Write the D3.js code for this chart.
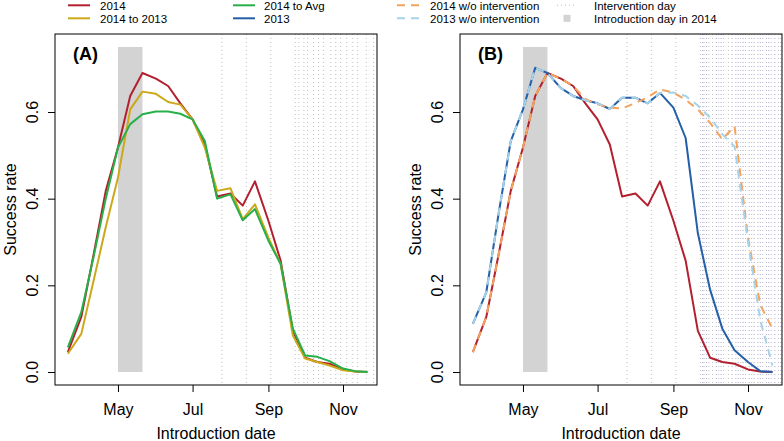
<!DOCTYPE html>
<html><head><meta charset="utf-8">
<script src="https://cdn.jsdelivr.net/npm/d3@7"></script>
<style>
body{margin:0;background:#fff}
svg{display:block}
text{font-family:"Liberation Sans",Arial,Helvetica,sans-serif;fill:#000}
</style>
</head><body>
<svg id="chart" width="784" height="441"></svg>
<script>
// ---------------- data ----------------
const dates = ["2014-03-21","2014-04-01","2014-04-11","2014-04-21","2014-05-01","2014-05-11","2014-05-21",
  "2014-06-01","2014-06-11","2014-06-21","2014-07-01","2014-07-11","2014-07-21","2014-08-01","2014-08-11",
  "2014-08-21","2014-09-01","2014-09-11","2014-09-21","2014-10-01","2014-10-11","2014-10-21","2014-11-01",
  "2014-11-11","2014-11-21"];
const rate2014      = [0.046,0.127,0.270,0.418,0.518,0.637,0.690,0.677,0.660,0.620,0.583,0.525,0.405,0.412,0.384,0.440,0.349,0.257,0.095,0.033,0.023,0.019,0.006,0.001,0.000];
const rate2014to2013= [0.042,0.088,0.210,0.334,0.449,0.606,0.647,0.642,0.623,0.617,0.583,0.518,0.418,0.424,0.353,0.387,0.310,0.249,0.084,0.031,0.023,0.015,0.004,0.001,0.000];
const rate2014toAvg = [0.057,0.138,0.265,0.400,0.518,0.572,0.595,0.601,0.601,0.596,0.583,0.533,0.400,0.410,0.350,0.376,0.303,0.249,0.100,0.038,0.035,0.025,0.008,0.002,0.000];
const rate2013      = [0.111,0.184,0.364,0.533,0.606,0.702,0.690,0.655,0.637,0.627,0.620,0.607,0.633,0.633,0.620,0.644,0.610,0.540,0.320,0.190,0.100,0.050,0.023,0.002,0.000];
const rate2014wo    = [0.046,0.127,0.270,0.418,0.518,0.637,0.690,0.677,0.660,0.630,0.618,0.610,0.608,0.621,0.634,0.652,0.645,0.628,0.606,0.575,0.537,0.567,0.310,0.155,0.100];
const rate2013wo    = [0.111,0.184,0.364,0.533,0.606,0.702,0.690,0.655,0.637,0.627,0.620,0.607,0.633,0.633,0.620,0.644,0.645,0.637,0.615,0.587,0.549,0.520,0.300,0.120,0.015];

const intervention2014 = ["2014-07-25","2014-08-14","2014-09-03","2014-09-23","2014-09-26","2014-09-30","2014-10-03",
  "2014-10-08","2014-10-12","2014-10-16","2014-10-22","2014-10-26","2014-10-30","2014-11-04","2014-11-09",
  "2014-11-13","2014-11-20","2014-11-26"];
const intervention2013 = ["2014-09-25","2014-09-28","2014-10-06","2014-10-10","2014-10-19","2014-10-24","2014-10-28",
  "2014-11-02","2014-11-06","2014-11-11","2014-11-16","2014-11-18","2014-11-23","2014-11-28"];

const introStart = "2014-05-01", introEnd = "2014-05-21", introTop = 0.75;

const xTicks = ["2014-05-01","2014-07-01","2014-09-01","2014-11-01"];
const xTickLabels = ["May","Jul","Sep","Nov"];
const yTicks = [0, 0.2, 0.4, 0.6];

const legendLabels = ["2014","2014 to 2013","2014 to Avg","2013","2014 w/o intervention","2013 w/o intervention","Intervention day","Introduction day in 2014"];

// ---------------- styles ----------------
const C = {r2014:"#B2202F", r2014to2013:"#CCA81A", r2014toAvg:"#27B04A", r2013:"#245FA8",
           wo2014:"#F4A25C", wo2013:"#A6D3E8", intGray:"#BEBEBE", intBlue:"#A9A9E8", intro:"#D3D3D3"};

const parse = d3.timeParse("%Y-%m-%d");
const D = dates.map(parse);

const svg = d3.select("#chart");
const plotTop = 34, plotBottom = 385, boxW = 322;
const y = d3.scaleLinear().domain([-0.03, 0.78]).range([plotBottom, plotTop]);
const xDomain = [new Date(2014,2,10,12), new Date(2014,10,28,19)];

function panel(left, label, solid, dashed, intervSets, id) {
  const x = d3.scaleTime().domain(xDomain).range([left, left + boxW]);
  const g = svg.append("g");
  g.append("clipPath").attr("id", id).append("rect")
    .attr("x", left).attr("y", plotTop).attr("width", boxW).attr("height", plotBottom - plotTop);
  const inner = g.append("g").attr("clip-path", `url(#${id})`);

  intervSets.forEach(s => {
    inner.selectAll(null).data(s.dates.map(parse)).enter().append("line")
      .attr("x1", d => x(d)).attr("x2", d => x(d)).attr("y1", plotTop).attr("y2", plotBottom)
      .attr("stroke", s.color).attr("stroke-width", 1).attr("stroke-dasharray", "1,3");
  });

  inner.append("rect")
    .attr("x", x(parse(introStart))).attr("width", x(parse(introEnd)) - x(parse(introStart)))
    .attr("y", y(introTop)).attr("height", y(0) - y(introTop)).attr("fill", C.intro);

  const line = d3.line().x((d, i) => x(D[i])).y(d => y(d));
  solid.forEach(s => inner.append("path").datum(s.v).attr("d", line)
    .attr("fill", "none").attr("stroke", s.c).attr("stroke-width", 2).attr("stroke-linejoin", "round"));
  dashed.forEach(s => inner.append("path").datum(s.v).attr("d", line)
    .attr("fill", "none").attr("stroke", s.c).attr("stroke-width", 2).attr("stroke-dasharray", "8,6"));

  g.append("rect").attr("x", left).attr("y", plotTop).attr("width", boxW).attr("height", plotBottom - plotTop)
    .attr("fill", "none").attr("stroke", "#000").attr("stroke-width", 1);

  const xa = g.append("g").attr("transform", `translate(0,${plotBottom})`)
    .call(d3.axisBottom(x).tickValues(xTicks.map(parse)).tickFormat((d, i) => xTickLabels[i])
      .tickSize(7).tickSizeOuter(0));
  xa.select(".domain").remove();
  xa.selectAll("text").attr("y", 30).attr("dy", null).style("font-size", "16px")
    .style("font-family", '"Liberation Sans",Arial,sans-serif');

  const ya = g.append("g").attr("transform", `translate(${left},0)`)
    .call(d3.axisLeft(y).tickValues(yTicks).tickSize(7).tickSizeOuter(0));
  ya.select(".domain").remove();
  ya.selectAll("text").remove();
  g.selectAll(null).data(yTicks).enter().append("text")
    .attr("transform", d => `translate(${left - 17.5},${y(d)}) rotate(-90)`)
    .attr("text-anchor", "middle").style("font-size", "16px").text(d3.format(".1f"));

  g.append("text").attr("x", left + boxW / 2).attr("y", 439).attr("text-anchor", "middle")
    .style("font-size", "16px").text("Introduction date");
  g.append("text").attr("transform", `translate(${left - 39.5},${(plotTop + plotBottom) / 2}) rotate(-90)`)
    .attr("text-anchor", "middle").style("font-size", "16px").text("Success rate");
  g.append("text").attr("x", left + 18).attr("y", 60).style("font-size", "18px")
    .style("font-weight", "bold").text(label);
}

panel(55, "(A)",
  [{v: rate2014, c: C.r2014}, {v: rate2014to2013, c: C.r2014to2013}, {v: rate2014toAvg, c: C.r2014toAvg}],
  [], [{dates: intervention2014, color: C.intGray}], "clipA");

panel(460, "(B)",
  [{v: rate2014, c: C.r2014}, {v: rate2013, c: C.r2013}],
  [{v: rate2014wo, c: C.wo2014}, {v: rate2013wo, c: C.wo2013}],
  [{dates: intervention2014, color: C.intGray}, {dates: intervention2013, color: C.intBlue}], "clipB");

// ---------------- legend ----------------
const lg = svg.append("g");
const rows = [9.5, 22.5];
const items = [
  {col: 0, row: 0, type: "solid", c: C.r2014},
  {col: 0, row: 1, type: "solid", c: C.r2014to2013},
  {col: 1, row: 0, type: "solid", c: C.r2014toAvg},
  {col: 1, row: 1, type: "solid", c: C.r2013},
  {col: 2, row: 0, type: "dash", c: C.wo2014},
  {col: 2, row: 1, type: "dash", c: C.wo2013},
  {col: 3, row: 0, type: "dot", c: C.intGray},
  {col: 3, row: 1, type: "box", c: C.intro}
];
const colLine = [[68, 90], [233, 255], [397, 419], [557, 577]];
const colText = [100, 264, 430, 594];
items.forEach((it, i) => {
  const yy = rows[it.row] - 4.2;
  const [a, b] = colLine[it.col];
  if (it.type === "box") {
    lg.append("rect").attr("x", (a + b) / 2 - 3.5).attr("y", yy - 3.5).attr("width", 7).attr("height", 7).attr("fill", it.c);
  } else {
    lg.append("line").attr("x1", a).attr("x2", b).attr("y1", yy).attr("y2", yy)
      .attr("stroke", it.c).attr("stroke-width", it.type === "dot" ? 1 : 2)
      .attr("stroke-dasharray", it.type === "dash" ? "8,6" : it.type === "dot" ? "1,3" : null);
  }
  lg.append("text").attr("x", colText[it.col]).attr("y", rows[it.row]).style("font-size", "11.5px").text(legendLabels[i]);
});
</script>
</body></html>
